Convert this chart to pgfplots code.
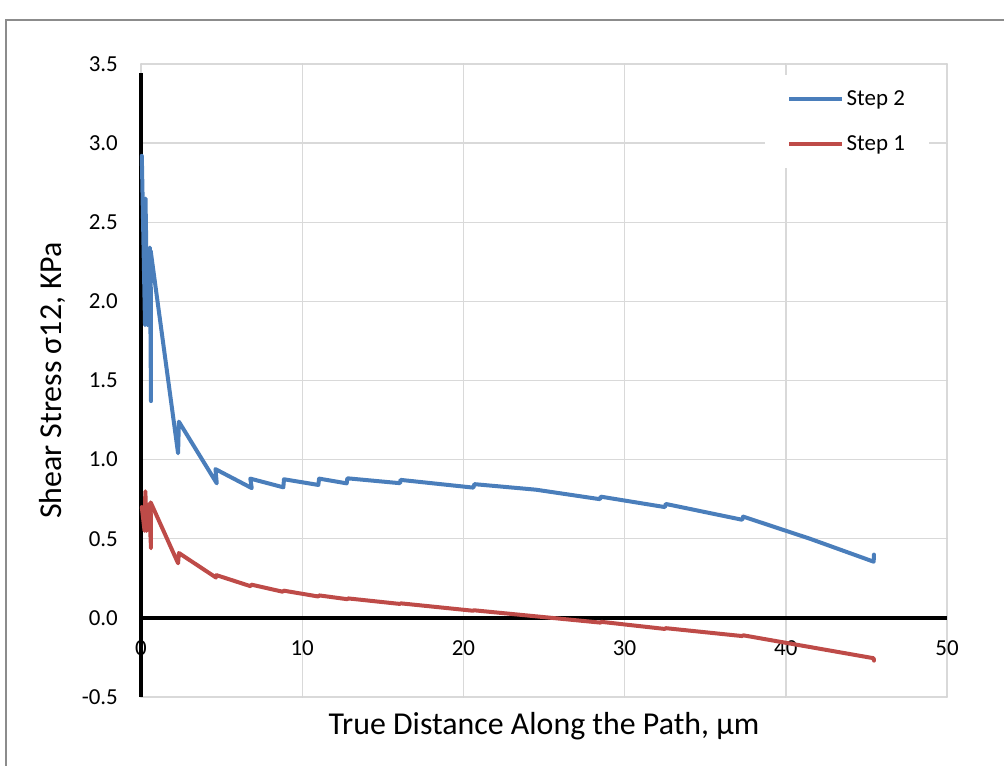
\documentclass[border=0pt]{standalone}
\usepackage{fontspec}
\setmainfont{Carlito}
\usepackage{pgfplots}
\pgfplotsset{compat=1.18}
\definecolor{sblue}{HTML}{4A7EBB}
\definecolor{sred}{HTML}{BE4B48}
\definecolor{gridc}{HTML}{D9D9D9}
\definecolor{framec}{HTML}{8C8C8C}
\begin{document}
\begin{tikzpicture}
\path[use as bounding box] (0,0) rectangle (1004bp,766bp);
\begin{scope}
\clip (0,0) rectangle (1004bp,766bp);
\draw[framec, line width=1.5bp] (6bp,-5bp) -- (6bp,746bp) -- (1010bp,746bp);
\end{scope}
\begin{axis}[
  at={(141bp,69bp)}, anchor=south west,
  scale only axis, width=806bp, height=633bp,
  clip=false,
  xmin=0, xmax=50, ymin=-0.5, ymax=3.5,
  xtick={0,10,20,30,40,50},
  ytick={-0.5,0,0.5,1,1.5,2,2.5,3,3.5},
  yticklabels={-0.5,0.0,0.5,1.0,1.5,2.0,2.5,3.0,3.5},
  /pgf/number format/assume math mode=true,
  axis line style={draw=none},
  major tick length=0pt,
  grid=major,
  major grid style={draw=gridc, line width=1.4bp},
  yticklabel style={font=\fontsize{23}{27}\selectfont, anchor=east, inner sep=0pt, xshift=-23bp},
  xticklabel style={font=\fontsize{23}{27}\selectfont, anchor=north, inner sep=0pt, yshift=56.4bp},
  xlabel={True Distance Along the Path, μm},
  ylabel={Shear Stress σ12, KPa},
  every axis x label/.style={at={(axis description cs:0.5,0)}, anchor=center, yshift=-29.5bp, font=\fontsize{32}{38}\selectfont},
  every axis y label/.style={at={(axis description cs:-0.1098,0.5)}, anchor=center, rotate=90, font=\fontsize{32}{38}\selectfont},
  legend style={at={(rel axis cs:0.7742,0.9826)}, anchor=north west, draw=none, fill=white,
    font=\fontsize{23}{27}\selectfont, inner xsep=22bp, inner ysep=13bp, row sep=24bp,
    nodes={inner sep=2.5bp}},
  legend cell align=left,
  legend image code/.code={\draw[#1, line width=4bp] (0bp,0bp) -- (53bp,0bp);},
  line join=round, line cap=round,
]
\draw[black, line width=4.3bp, line cap=butt] (axis cs:0,-0.5) -- (axis cs:0,3.446);
\draw[black, line width=3.4bp, line cap=butt] (axis cs:0,0) -- (axis cs:50,0);

\addplot[sblue, line width=4bp, no marks] coordinates {
(0.05,2.92) (0.25,1.85) (0.28,2.65) (0.40,1.85) (0.55,2.34) (0.62,1.37)
(0.60,2.32) (2.30,1.04) (2.35,1.24) (4.70,0.85) (4.62,0.94) (6.87,0.82)
(6.78,0.88) (8.83,0.825) (8.87,0.876) (11.0,0.84) (11.05,0.88) (12.76,0.85)
(12.80,0.882) (16.07,0.851) (16.10,0.872) (20.62,0.823) (20.68,0.845)
(24.5,0.81) (28.47,0.75) (28.52,0.766) (32.5,0.70) (32.55,0.72)
(37.29,0.62) (37.35,0.64) (41.5,0.50) (45.45,0.355) (45.47,0.40)
};
\addlegendentry{Step 2}

\addplot[sred, line width=4bp, no marks] coordinates {
(0.05,0.70) (0.22,0.55) (0.27,0.80) (0.35,0.55) (0.50,0.72) (0.62,0.44)
(0.60,0.73) (2.30,0.345) (2.35,0.41) (4.65,0.255) (4.68,0.27) (6.80,0.20)
(6.85,0.21) (8.80,0.165) (8.85,0.172) (11.0,0.135) (11.05,0.142) (12.80,0.118)
(12.85,0.123) (16.07,0.088) (16.10,0.092) (20.60,0.045) (20.65,0.048)
(28.50,-0.03) (28.55,-0.025) (32.50,-0.07) (32.55,-0.065) (37.30,-0.115)
(37.35,-0.11) (45.45,-0.255) (45.47,-0.27)
};
\addlegendentry{Step 1}
\end{axis}
\end{tikzpicture}
\end{document}
